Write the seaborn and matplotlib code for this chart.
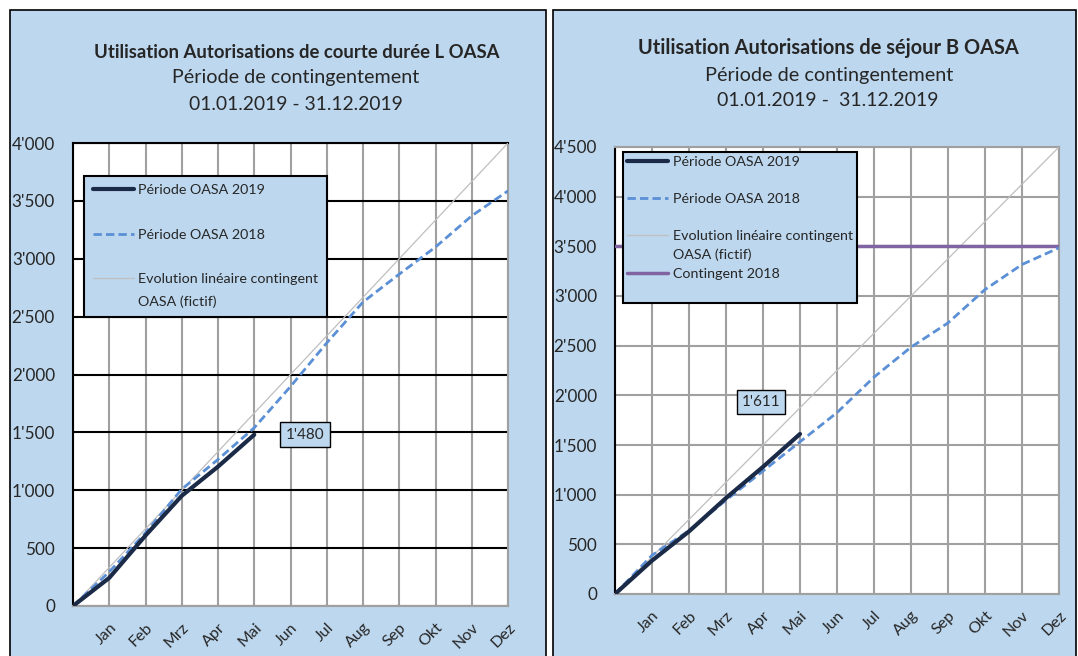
import numpy as np
import pandas as pd
import matplotlib
matplotlib.use("Agg")
import matplotlib.pyplot as plt
import seaborn as sns
from matplotlib.patches import Rectangle
from matplotlib.lines import Line2D

# données
mois = ["", "Jan", "Feb", "Mrz", "Apr", "Mai", "Jun", "Jul", "Aug", "Sep", "Okt", "Nov", "Dez"]

# Autorisations de courte durée L
l_2019 = [0, 243, 609, 952, 1204, 1480]
l_2018 = [0, 295, 632, 1009, 1266, 1540, 1896, 2273, 2626, 2867, 3101, 3371, 3586]
l_contingent = 4000

# Autorisations de séjour B
b_2019 = [0, 336, 630, 966, 1280, 1611]
b_2018 = [0, 390, 638, 945, 1238, 1532, 1826, 2183, 2485, 2729, 3065, 3317, 3485]
b_contingent = 4500
b_contingent_2018 = 3500

bleu_fond = "#BDD7EE"
navy = "#1B2A47"
bleu = "#5B8FD6"
gris = "#BFBFBF"
violet = "#8064A2"

sns.set_style("white")
plt.rcParams["font.family"] = ["Lato", "DejaVu Sans"]

fig = plt.figure(figsize=(10.78, 6.56), dpi=100)

# panneaux bleus
for x0, w in [(10 / 1078, 536 / 1078), (553 / 1078, 523 / 1078)]:
    fig.patches.append(Rectangle((x0, -0.02), w, 1.02 - 10 / 656, transform=fig.transFigure,
                                 facecolor=bleu_fond, edgecolor="black", lw=1.2, zorder=-10))


def fmt(v):
    return f"{v:,}".replace(",", "'")


def vide():
    return Line2D([], [], color="none")


def dessine(ax, v2019, v2018, total, pas, hgrid_color, contingent=None):
    n = len(mois)
    df19 = pd.DataFrame({"mois": range(len(v2019)), "val": v2019})
    df18 = pd.DataFrame({"mois": range(n), "val": v2018})
    dflin = pd.DataFrame({"mois": [0, n - 1], "val": [0, total]})

    sns.lineplot(data=df19, x="mois", y="val", ax=ax, color=navy, lw=3,
                 label="Période OASA 2019", zorder=5)
    sns.lineplot(data=df18, x="mois", y="val", ax=ax, color=bleu, lw=2, linestyle=(0, (3, 1.5)),
                 label="Période OASA 2018", zorder=4)
    sns.lineplot(data=dflin, x="mois", y="val", ax=ax, color=gris, lw=0.9,
                 label="Evolution linéaire contingent", zorder=3)
    if contingent is not None:
        dfc = pd.DataFrame({"mois": [0, n - 1], "val": [contingent, contingent]})
        sns.lineplot(data=dfc, x="mois", y="val", ax=ax, color=violet, lw=2.5,
                     label="Contingent 2018", zorder=3)

    ax.set_xlim(0, n - 1)
    ax.set_ylim(0, total)
    ax.set_xticks(range(n))
    ax.set_xticklabels(mois, rotation=45, ha="right", rotation_mode="anchor", fontsize=11.5)
    yt = np.arange(0, total + 1, pas)
    ax.set_yticks(yt)
    ax.set_yticklabels([fmt(int(v)) for v in yt], fontsize=12.3)
    ax.tick_params(axis="both", length=0)
    ax.tick_params(axis="x", pad=10.5)
    ax.tick_params(axis="y", pad=13)
    ax.set_xlabel("")
    ax.set_ylabel("")
    ax.set_facecolor("white")
    ax.grid(axis="x", color="#A0A0A0", lw=1.5)
    ax.grid(axis="y", color=hgrid_color, lw=1.5)
    ax.set_axisbelow(True)
    for s in ax.spines.values():
        s.set_color("#A0A0A0")
        s.set_linewidth(1.5)
    ax.spines["left"].set_color("black")
    ax.spines["top"].set_color(hgrid_color)
    h, l = ax.get_legend_handles_labels()
    ax.get_legend().remove()
    return h, l


leg_kw = dict(loc="upper left", frameon=True, fancybox=False, edgecolor="black",
              facecolor=bleu_fond, framealpha=1, fontsize=10.25, handlelength=2.9,
              handletextpad=0.3, borderaxespad=0)

# graphique gauche
ax1 = fig.add_axes([73 / 1078, 1 - 606 / 656, 435 / 1078, 463 / 656])
h, l = dessine(ax1, l_2019, l_2018, l_contingent, 500, "black")
leg1 = ax1.legend([h[0], vide(), h[1], vide(), h[2], vide()],
                  [l[0], "", l[1], "", l[2], "OASA (fictif)"],
                  bbox_to_anchor=(0.0253, 0.929), labelspacing=0.72, borderpad=0.6, **leg_kw)
leg1.get_frame().set_linewidth(1.5)
ax1.annotate(fmt(l_2019[-1]), xy=(len(l_2019) - 1, l_2019[-1]), xytext=(36.4, 0),
             textcoords="offset points", ha="center", va="center", fontsize=11,
             bbox=dict(boxstyle="square,pad=0.38", fc=bleu_fond, ec="black", lw=1))

fig.text(297 / 1078, 1 - 52 / 656, "Utilisation Autorisations de courte durée L OASA",
         ha="center", va="center", fontsize=13.3, fontweight="bold")
fig.text(296 / 1078, 1 - 78 / 656, "Période de contingentement", ha="center", va="center", fontsize=14.2)
fig.text(296 / 1078, 1 - 104 / 656, "01.01.2019 - 31.12.2019", ha="center", va="center", fontsize=13.9)

# graphique droit
ax2 = fig.add_axes([615 / 1078, 1 - 594 / 656, 444 / 1078, 447 / 656])
h, l = dessine(ax2, b_2019, b_2018, b_contingent, 500, "#A0A0A0", contingent=b_contingent_2018)
leg2 = ax2.legend([h[0], vide(), h[1], vide(), h[2], vide(), h[3], vide()],
                  [l[0], "", l[1], "", l[2], "OASA (fictif)", l[3], ""],
                  bbox_to_anchor=(0.0173, 0.9895), labelspacing=0.46, borderpad=0.3, **leg_kw)
leg2.get_frame().set_linewidth(1.5)
ax2.annotate(fmt(b_2019[-1]), xy=(len(b_2019) - 1, b_2019[-1]), xytext=(-28, 23),
             textcoords="offset points", ha="center", va="center", fontsize=11,
             bbox=dict(boxstyle="square,pad=0.3", fc=bleu_fond, ec="black", lw=1))

fig.text(828 / 1078, 1 - 48 / 656, "Utilisation Autorisations de séjour B OASA",
         ha="center", va="center", fontsize=14.4, fontweight="bold")
fig.text(829 / 1078, 1 - 75 / 656, "Période de contingentement", ha="center", va="center", fontsize=14.3)
fig.text(828 / 1078, 1 - 101 / 656, "01.01.2019 -  31.12.2019", ha="center", va="center", fontsize=14)

fig.savefig("out.png", dpi=100, facecolor="white")
